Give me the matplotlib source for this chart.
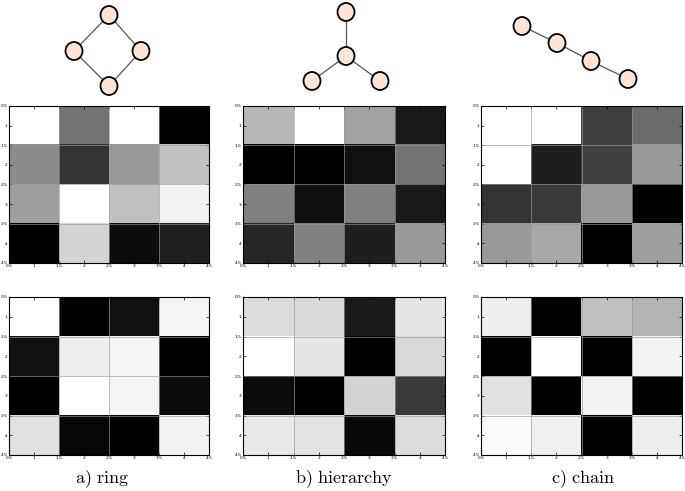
import numpy as np
import matplotlib
matplotlib.use("Agg")
import matplotlib.pyplot as plt
from matplotlib.patches import Ellipse

plt.rcParams['mathtext.fontset'] = 'cm'

# ---- data ----
panel_labels = ["a) ring", "b) hierarchy", "c) chain"]
tick_values = [0.5, 1, 1.5, 2, 2.5, 3, 3.5, 4, 4.5]
tick_labels = ["0.5", "1", "1.5", "2", "2.5", "3", "3.5", "4", "4.5"]

ring_top = [[1.00, 0.45, 1.00, 0.00],
            [0.55, 0.20, 0.60, 0.76],
            [0.62, 1.00, 0.75, 0.95],
            [0.00, 0.83, 0.05, 0.13]]
hier_top = [[0.72, 1.00, 0.63, 0.10],
            [0.00, 0.00, 0.07, 0.45],
            [0.50, 0.06, 0.50, 0.10],
            [0.15, 0.50, 0.12, 0.60]]
chain_top = [[1.00, 1.00, 0.25, 0.42],
             [1.00, 0.12, 0.25, 0.60],
             [0.20, 0.23, 0.60, 0.00],
             [0.60, 0.66, 0.00, 0.62]]
ring_bot = [[1.00, 0.00, 0.07, 0.96],
            [0.07, 0.93, 0.96, 0.00],
            [0.00, 1.00, 0.96, 0.05],
            [0.88, 0.03, 0.00, 0.95]]
hier_bot = [[0.86, 0.85, 0.10, 0.90],
            [1.00, 0.90, 0.00, 0.85],
            [0.05, 0.00, 0.83, 0.23],
            [0.91, 0.89, 0.04, 0.86]]
chain_bot = [[0.93, 0.00, 0.75, 0.70],
             [0.00, 1.00, 0.00, 0.95],
             [0.88, 0.00, 0.95, 0.00],
             [0.98, 0.94, 0.00, 0.93]]

# graph node positions (pixel space of top strip) and edges
ring_nodes = [(109, 15), (74, 51), (141, 51), (109, 86)]
ring_edges = [(0, 1), (0, 2), (1, 3), (2, 3)]
hier_nodes = [(346, 12), (346, 56), (312, 81), (380, 81)]
hier_edges = [(0, 1), (1, 2), (1, 3)]
chain_nodes = [(522, 26), (557, 43), (591, 61), (628, 79)]
chain_edges = [(0, 1), (1, 2), (2, 3)]

W, H = 685, 491
fig = plt.figure(figsize=(W / 100, H / 100), dpi=100)

# ---- top graphs ----
gax = fig.add_axes([0, 1 - 97 / H, 1, 97 / H])
gax.set_xlim(0, W)
gax.set_ylim(97, 0)
gax.axis('off')
for nodes, edges in [(ring_nodes, ring_edges), (hier_nodes, hier_edges), (chain_nodes, chain_edges)]:
    for a, b in edges:
        gax.plot([nodes[a][0], nodes[b][0]], [nodes[a][1], nodes[b][1]],
                 color='#555555', lw=0.9, zorder=1)
    for (x, y) in nodes:
        gax.add_patch(Ellipse((x, y), 17, 18, facecolor='#FBE5D6',
                              edgecolor='black', lw=1.3, zorder=2))

# ---- heatmaps ----
col_lefts = [9, 243, 481]
col_widths = [200, 202, 201]
row_tops = [106, 297]
row_heights = [157, 158]
mats = [[ring_top, hier_top, chain_top], [ring_bot, hier_bot, chain_bot]]

for r in range(2):
    for c in range(3):
        l = col_lefts[c] / W
        w = col_widths[c] / W
        b = 1 - (row_tops[r] + row_heights[r]) / H
        h = row_heights[r] / H
        ax = fig.add_axes([l, b, w, h])
        ax.imshow(np.array(mats[r][c]), cmap='gray', vmin=0, vmax=1,
                  extent=(0.5, 4.5, 4.5, 0.5), aspect='auto',
                  interpolation='nearest')
        for v in [1.5, 2.5, 3.5]:
            ax.axhline(v, color='0.6', lw=0.45)
            ax.axvline(v, color='0.6', lw=0.45)
        ax.set_xlim(0.5, 4.5)
        ax.set_ylim(4.5, 0.5)
        ax.set_xticks(tick_values)
        ax.set_xticklabels(tick_labels)
        ax.set_yticks(tick_values)
        ax.set_yticklabels(tick_labels)
        ax.tick_params(direction='in', length=2, width=0.5, labelsize=3.2,
                       top=True, right=True, pad=1.0)
        for s in ax.spines.values():
            s.set_linewidth(0.8)

# ---- labels ----
label_x = [102, 344, 583]
for x, t in zip(label_x, panel_labels):
    fig.text(x / W, 1 - 479 / H, r'$\mathrm{' + t.replace(' ', r'\ ') + '}$',
             ha='center', va='center', fontsize=13)

fig.savefig('out.png', dpi=100)
